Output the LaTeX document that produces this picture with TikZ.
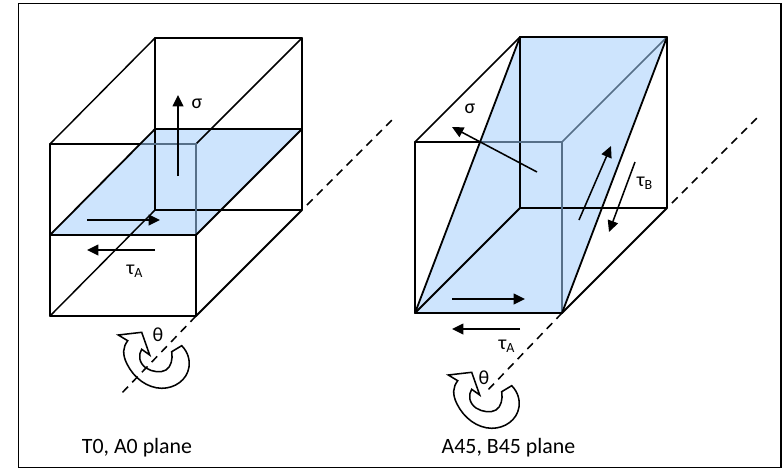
\documentclass[tikz,border=0pt]{standalone}
\usepackage{fontspec}
\setmainfont{Carlito}
\usetikzlibrary{arrows.meta}
\definecolor{planeblue}{HTML}{CDE4FD}
\definecolor{veilgrey}{HTML}{566F88}
\tikzset{
  edge/.style={black,line width=1.35pt,line cap=round,line join=round},
  thinedge/.style={black,line width=1.1pt,line cap=round},
  veiled/.style={veilgrey,line width=1.35pt},
  planefill/.style={fill=planeblue,draw=none},
  force/.style={black,line width=1.15pt,-{Triangle[length=8.5pt,width=8pt]}},
  axisline/.style={black,line width=1.15pt,dash pattern=on 6pt off 4.5pt},
  turnline/.style={black,line width=1.15pt,line join=miter},
  lab/.style={inner sep=0pt,font=\fontsize{15}{17}\selectfont},
  captiontext/.style={inner sep=0pt,font=\fontsize{16.4}{19}\selectfont},
  framebox/.style={black,line width=1.2pt}
}
\newcommand{\turnarrow}[2]{%
  \begin{scope}[shift={(#1,#2)}]
    \draw[turnline] (181.7,345.7)
      .. controls (188,352) and (190,360) .. (189,367)
      .. controls (187,380) and (175,388.3) .. (161.7,388.3)
      .. controls (147,388) and (134,378) .. (127,364)
      .. controls (122,354) and (123,347) .. (127.7,340.7)
      -- (118.3,335) -- (141.7,332.3) -- (149.7,355)
      -- (141.7,349.3)
      .. controls (138,355) and (139,363) .. (146,368)
      .. controls (152,372) and (161,373) .. (166,370)
      .. controls (171,367) and (173,359) .. (171.7,351.7)
      -- cycle;
  \end{scope}}
\begin{document}
\begin{tikzpicture}[x=0.75pt,y=-0.75pt]
\useasboundingbox (0,0) rectangle (783,469);
\fill[white] (0,0) rectangle (783,469);
\draw[framebox] (18.5,3.5) rectangle (781,467.5);

% left cube
\coordinate (la) at (50,144);  \coordinate (lb) at (196,144);
\coordinate (lc) at (196,316); \coordinate (ld) at (50,316);
\coordinate (le) at (155,38);  \coordinate (lf) at (302,38);
\coordinate (lg) at (302,210); \coordinate (lh) at (155,210);
\coordinate (lp) at (155,129); \coordinate (lq) at (302,129);
\coordinate (lr) at (196,235); \coordinate (ls) at (50,235);
\fill[planefill] (lp) -- (lq) -- (lr) -- (ls) -- cycle;
\draw[edge] (la) -- (lb) -- (lc) -- (ld) -- cycle;
\draw[edge] (le) -- (lf) -- (lg) -- (lh) -- cycle;
\draw[thinedge] (la) -- (le) (lb) -- (lf) (lh) -- (ld);
\draw[edge] (lg) -- (lc);
\begin{scope}
  \clip (lp) -- (lq) -- (lr) -- (ls) -- cycle;
  \draw[veiled] (la) -- (lb) -- (lc);
\end{scope}
\draw[edge] (lp) -- (lq) -- (lr) -- (ls) -- cycle;

% left axis
\coordinate (lx1) at (120,395); \coordinate (lx2) at (307,205); \coordinate (lx3) at (392,120);
\draw[axisline] (lc) -- (lx1);
\draw[axisline] (lx2) -- (lx3);

% left forces
\coordinate (ls1) at (178,176); \coordinate (ls2) at (178,95);
\coordinate (lt1) at (87,220);  \coordinate (lt2) at (160,220);
\coordinate (lt3) at (155,250); \coordinate (lt4) at (87,250);
\draw[force] (ls1) -- (ls2);
\draw[force] (lt1) -- (lt2);
\draw[force] (lt3) -- (lt4);
\node[lab] (lsig) at (197,104) {σ};
\node[lab] (ltau) at (135,271) {τ\textsubscript{A}};
\node[lab] (lth) at (158,335) {θ};
\turnarrow{0}{0}

% right cube
\coordinate (ra) at (415,142); \coordinate (rb) at (562,142);
\coordinate (rc) at (562,313); \coordinate (rd) at (415,313);
\coordinate (re) at (520,37);  \coordinate (rf) at (667,37);
\coordinate (rg) at (667,208); \coordinate (rh) at (520,208);
\fill[planefill] (re) -- (rf) -- (rc) -- (rd) -- cycle;
\draw[edge] (ra) -- (rb) -- (rc) -- (rd) -- cycle;
\draw[edge] (re) -- (rf) -- (rg) -- (rh) -- cycle;
\draw[thinedge] (ra) -- (re);
\draw[edge] (rh) -- (rd) (rg) -- (rc);
\begin{scope}
  \clip (re) -- (rf) -- (rc) -- (rd) -- cycle;
  \draw[veiled] (ra) -- (rb) -- (rc);
  \draw[veiled,line width=1.1pt] (rb) -- (rf);
\end{scope}
\draw[edge] (re) -- (rd) (rf) -- (rc);
\draw[black,line width=1.9pt] (re) -- (rf);
\draw[black,line width=1.9pt] (rd) -- (rc);

% right axis
\coordinate (rx1) at (485,393); \coordinate (rx2) at (672,203); \coordinate (rx3) at (757,118);
\draw[axisline] (rc) -- (rx1);
\draw[axisline] (rx2) -- (rx3);

% right forces
\coordinate (rs1) at (537,172); \coordinate (rs2) at (452,127);
\coordinate (rt1) at (452,299); \coordinate (rt2) at (525,299);
\coordinate (rt3) at (520,329); \coordinate (rt4) at (452,329);
\coordinate (ru1) at (579,220); \coordinate (ru2) at (611,146);
\coordinate (ru3) at (635,162); \coordinate (ru4) at (609,232);
\draw[force] (rs1) -- (rs2);
\draw[force] (rt1) -- (rt2);
\draw[force] (rt3) -- (rt4);
\draw[force] (ru1) -- (ru2);
\draw[force] (ru3) -- (ru4);
\node[lab] (rsig) at (470,109) {σ};
\node[lab] (rtb) at (645,183) {τ\textsubscript{B}};
\node[lab] (rta) at (507,346) {τ\textsubscript{A}};
\node[lab] (rth) at (484,378) {θ};
\turnarrow{330}{40}

% captions
\node[captiontext] (c1) at (137,448) {T0, A0 plane};
\node[captiontext] (c2) at (508.5,448) {A45, B45 plane};
\end{tikzpicture}
\end{document}
